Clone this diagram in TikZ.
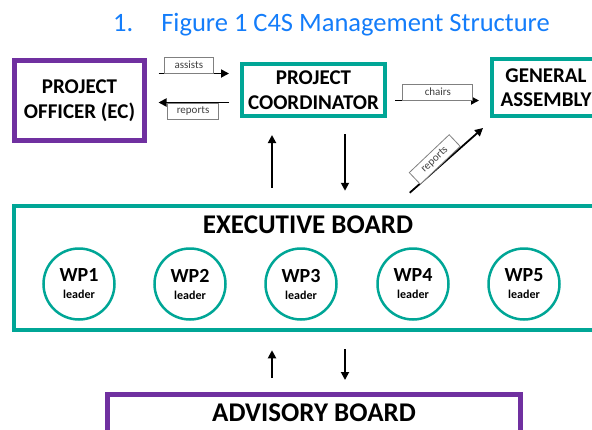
\documentclass[tikz,border=0pt]{standalone}
\usepackage{fontspec}
\setmainfont{Carlito}
\usetikzlibrary{arrows.meta,calc}
\definecolor{tealc}{RGB}{0,166,150}
\definecolor{purp}{RGB}{112,48,160}
\definecolor{tblue}{RGB}{20,125,250}
\begin{document}
\begin{tikzpicture}[x=1pt,y=-1pt,
  boxtext/.style={font=\bfseries\fontsize{21}{24.5}\selectfont, align=center, inner sep=0pt},
  tbox/.style={draw=tealc, line width=4pt, inner sep=0pt, boxtext},
  pbox/.style={draw=purp, line width=5pt, inner sep=0pt, boxtext},
  arr/.style={-{Triangle[length=8pt,width=8pt]}, line width=1.8pt},
  lab/.style={draw=gray, line width=0.8pt, fill=white, text=darkgray,
    font=\fontsize{11}{11}\selectfont, inner sep=0pt, minimum height=16pt},
  wp/.style={circle, draw=tealc, line width=2.5pt, minimum size=71pt, inner sep=0pt,
    align=center, font=\bfseries\fontsize{20}{14}\selectfont}
]
\useasboundingbox (0,0) rectangle (592,429);
\begin{scope}
\clip (0,0) rectangle (592,429);
% title
\node[anchor=base west, text=tblue, font=\fontsize{26.5}{30}\selectfont, inner sep=0pt] (title) at (113,31) {1.\hspace{28pt}Figure 1 C4S Management Structure};
% boxes
\node[pbox, minimum width=130pt, minimum height=80pt] (po) at (79.5,100.5) {PROJECT\\OFFICER (EC)};
\node[tbox, minimum width=143pt, minimum height=52pt] (pc) at (313.5,90) {PROJECT\\COORDINATOR};
\node[tbox, minimum width=108pt, minimum height=57pt] (ga) at (546,87.5) {GENERAL\\ASSEMBLY};
\node[draw=tealc, line width=4.5pt, minimum width=588pt, minimum height=124pt, inner sep=0pt] (eb) at (308,268) {};
\node[font=\bfseries\fontsize{27}{30}\selectfont, inner sep=0pt] (ebt) at (308,225) {EXECUTIVE BOARD};
\node[draw=purp, line width=5pt, anchor=base, font=\bfseries\fontsize{27}{30}\selectfont,
  text height=23pt, text depth=40pt, inner xsep=0pt, inner ysep=4pt, minimum width=413pt] (ab) at (314,421) {ADVISORY BOARD};
% WP circles
\node[wp] (wp1) at (79,284) {WP1\\[3pt]{\fontsize{12}{14}\selectfont leader}};
\node[wp] (wp2) at (190,284) {WP2\\[3pt]{\fontsize{12}{14}\selectfont leader}};
\node[wp] (wp3) at (301,284) {WP3\\[3pt]{\fontsize{12}{14}\selectfont leader}};
\node[wp] (wp4) at (413,284) {WP4\\[3pt]{\fontsize{12}{14}\selectfont leader}};
\node[wp] (wp5) at (524,284) {WP5\\[3pt]{\fontsize{12}{14}\selectfont leader}};
% horizontal arrows
\draw[arr] ([xshift=11.5pt,yshift=27pt]po.east) -- ([xshift=-11pt,yshift=16.5pt]pc.west)
  node[lab, pos=0.43, anchor=south, minimum width=49pt] (l1) {assists};
\draw[arr] ([xshift=-11pt,yshift=-12.5pt]pc.west) -- ([xshift=11.5pt,yshift=-2pt]po.east)
  node[lab, pos=0.51, anchor=north, minimum width=51pt] (l2) {reports};
\draw[arr] ([xshift=8pt,yshift=-10.5pt]pc.east) -- ([xshift=-11pt,yshift=-13pt]ga.west)
  node[lab, pos=0.51, anchor=south, minimum width=70pt] (l3) {chairs};
% diagonal
\draw[arr] ($(eb.north west)+(398,-11)$) -- ($(ga.south west)+(-7,10)$)
  node[lab, pos=0.42, anchor=south, rotate=43.5, minimum width=55pt] (l4) {reports};
% vertical arrows
\coordinate (u1) at (272,0);
\coordinate (d1) at (345,0);
\draw[arr, shorten <=16pt, shorten >=17pt] (u1 |- eb.north) -- (u1 |- pc.south);
\draw[arr, shorten <=16pt, shorten >=13pt] (d1 |- pc.south) -- (d1 |- eb.north);
\draw[arr, shorten <=13.5pt, shorten >=18pt] (u1 |- ab.north) -- (u1 |- eb.south);
\draw[arr, shorten <=17pt, shorten >=11.5pt] (d1 |- eb.south) -- (d1 |- ab.north);
\end{scope}
\end{tikzpicture}
\end{document}
